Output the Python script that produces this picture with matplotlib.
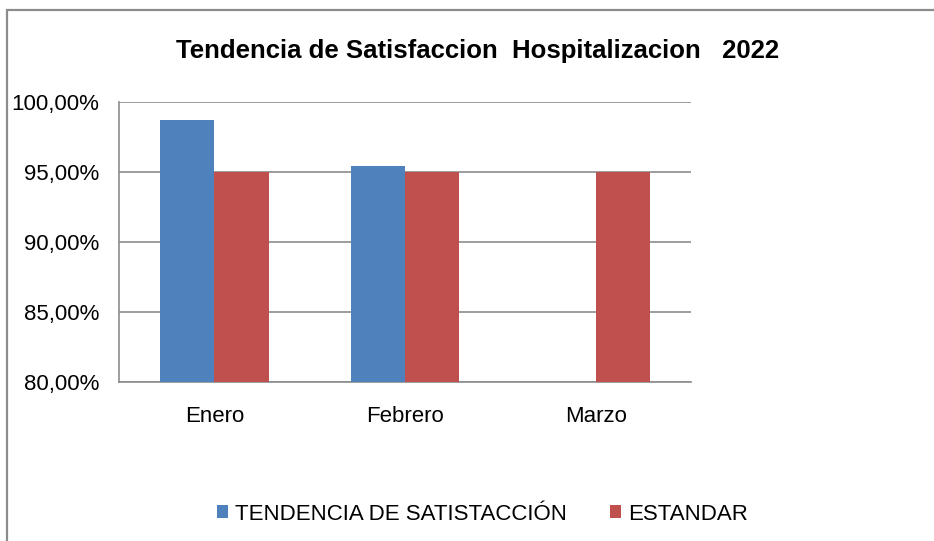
import numpy as np
import matplotlib
matplotlib.use("Agg")
import matplotlib.pyplot as plt
from matplotlib.patches import Rectangle
from matplotlib.ticker import FuncFormatter
from matplotlib import font_manager

months = ["Enero", "Febrero", "Marzo"]
tendencia = [98.71, 95.40, np.nan]
estandar = [95.0, 95.0, 95.0]
y_ticks = [80, 85, 90, 95, 100]

blue = "#4F81BD"
red = "#C0504D"
grid_c = "#8C8C8C"

plt.rcParams["font.family"] = ["Liberation Sans", "DejaVu Sans"]
names = {f.name for f in font_manager.fontManager.ttflist}
title_font = "Liberation Sans Narrow" if "Liberation Sans Narrow" in names else "Liberation Sans"
title_size = 22.5 if title_font == "Liberation Sans Narrow" else 18.5

fig = plt.figure(figsize=(9.34, 5.41), dpi=100)
ax = fig.add_axes([119 / 934, 1 - 382 / 541, 572 / 934, 280 / 541])

# outer chart frame
fig.patches.append(Rectangle((7 / 934, -0.1), 1.2, (1 - 10 / 541) + 0.1,
                             transform=fig.transFigure, fill=False,
                             edgecolor="#8C8C8C", linewidth=1.6))

x = np.arange(len(months))
w = 1 / 3.5
ax.bar(x - w / 2, tendencia, w, color=blue, label="TENDENCIA DE SATISTACCIÓN", zorder=3)
ax.bar(x + w / 2, estandar, w, color=red, label="ESTANDAR", zorder=3)

ax.set_xlim(-0.5, len(months) - 0.5)
ax.set_ylim(80, 100)
ax.set_yticks(y_ticks)
ax.yaxis.set_major_formatter(FuncFormatter(lambda v, p: f"{v:.2f}%".replace(".", ",")))
ax.set_xticks(x)
ax.set_xticklabels(months)
ax.tick_params(axis="both", length=0, labelsize=16, colors="black")
ax.tick_params(axis="x", pad=17.5)
ax.tick_params(axis="y", pad=14)

ax.grid(axis="y", color=grid_c, linewidth=1.2, zorder=0)
for s in ["top", "right"]:
    ax.spines[s].set_visible(False)
for s in ["left", "bottom"]:
    ax.spines[s].set_color(grid_c)
    ax.spines[s].set_linewidth(1.2)

fig.text(0.511, 1 - 51 / 541, "Tendencia de Satisfaccion  Hospitalizacion   2022",
         ha="center", va="center", fontsize=title_size, fontweight="bold",
         family=title_font)

fig.legend(loc="center", bbox_to_anchor=(0.5165, 1 - 514 / 541), ncol=2, frameon=False,
           fontsize=16, handlelength=0.5, handleheight=0.5, handletextpad=0.32,
           columnspacing=1.94)

fig.savefig("out.png", dpi=100)
